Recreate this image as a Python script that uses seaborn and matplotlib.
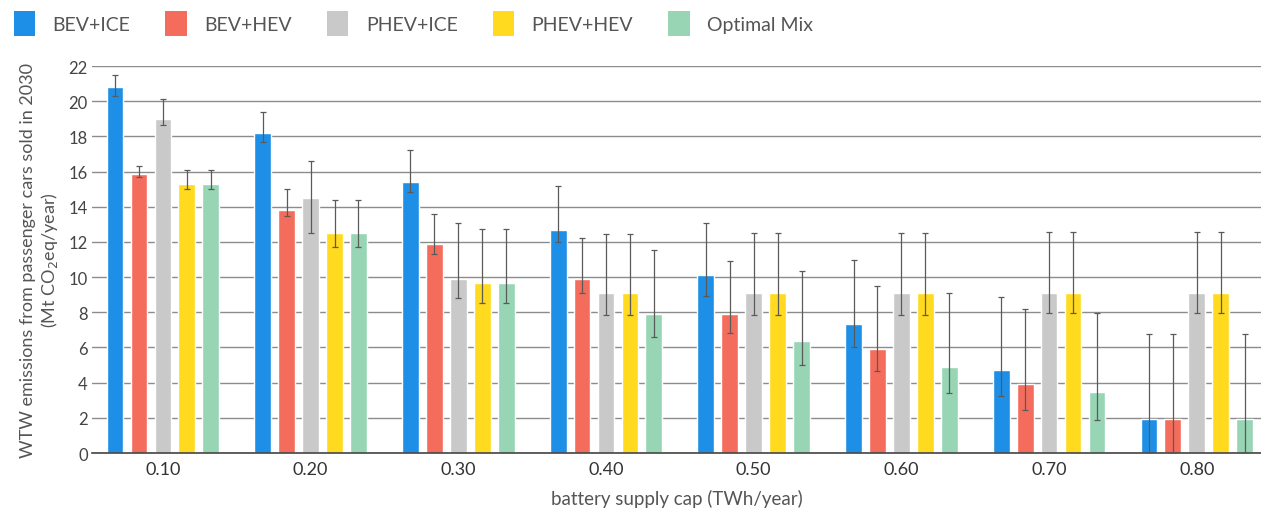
import numpy as np
import pandas as pd
import matplotlib.pyplot as plt
import seaborn as sns
from matplotlib.patches import Patch

# data
caps = ["0.10", "0.20", "0.30", "0.40", "0.50", "0.60", "0.70", "0.80"]
scenarios = ["BEV+ICE", "BEV+HEV", "PHEV+ICE", "PHEV+HEV", "Optimal Mix"]
colors = ["#1E8FE6", "#F46D5C", "#C9C9C9", "#FFDA1F", "#97D5B5"]

bev_ice = [20.8, 18.2, 15.4, 12.7, 10.1, 7.35, 4.7, 1.95]
bev_ice_lo = [20.3, 17.7, 14.85, 12.0, 8.95, 6.05, 3.25, 0.0]
bev_ice_hi = [21.5, 19.4, 17.25, 15.2, 13.1, 10.95, 8.85, 6.75]

bev_hev = [15.85, 13.8, 11.9, 9.9, 7.9, 5.9, 3.95, 1.95]
bev_hev_lo = [15.7, 13.5, 11.3, 9.1, 6.85, 4.65, 2.45, 0.0]
bev_hev_hi = [16.3, 15.0, 13.6, 12.2, 10.9, 9.5, 8.2, 6.75]

phev_ice = [19.0, 14.5, 9.9, 9.1, 9.1, 9.1, 9.1, 9.1]
phev_ice_lo = [18.65, 12.5, 8.8, 7.85, 7.85, 7.85, 7.95, 7.95]
phev_ice_hi = [20.1, 16.6, 13.1, 12.45, 12.5, 12.5, 12.55, 12.55]

phev_hev = [15.3, 12.5, 9.65, 9.1, 9.1, 9.1, 9.1, 9.1]
phev_hev_lo = [15.0, 11.7, 8.5, 7.85, 7.85, 7.85, 7.95, 7.95]
phev_hev_hi = [16.1, 14.4, 12.75, 12.45, 12.5, 12.5, 12.55, 12.55]

optimal = [15.3, 12.5, 9.65, 7.9, 6.35, 4.9, 3.45, 1.95]
optimal_lo = [15.0, 11.7, 8.5, 6.6, 5.0, 3.4, 1.85, 0.0]
optimal_hi = [16.1, 14.4, 12.75, 11.55, 10.35, 9.1, 7.95, 6.75]

values = [bev_ice, bev_hev, phev_ice, phev_hev, optimal]
lows = [bev_ice_lo, bev_hev_lo, phev_ice_lo, phev_hev_lo, optimal_lo]
highs = [bev_ice_hi, bev_hev_hi, phev_ice_hi, phev_hev_hi, optimal_hi]

rows = []
for s, v in zip(scenarios, values):
    for c, val in zip(caps, v):
        rows.append({"cap": c, "scenario": s, "value": val})
df = pd.DataFrame(rows)

sns.set_style("white")
plt.rcParams["font.family"] = ["Lato", "DejaVu Sans"]

fig = plt.figure(figsize=(12.61, 5.10), dpi=100)
ax = fig.add_axes([0.073, 0.1098, 0.927, 0.7588])

sns.barplot(data=df, x="cap", y="value", hue="scenario", order=caps,
            hue_order=scenarios, palette=colors, errorbar=None,
            width=0.81, gap=0.3, saturation=1, legend=False, ax=ax, zorder=2)

# error bars on each bar
for cont, v, lo, hi in zip(ax.containers, values, lows, highs):
    xs = [b.get_x() + b.get_width() / 2 for b in cont]
    v = np.array(v)
    yerr = [v - np.array(lo), np.array(hi) - v]
    ax.errorbar(xs, v, yerr=yerr, fmt="none", ecolor="#5a5a5a",
                elinewidth=0.9, capsize=2.5, capthick=0.9, zorder=3)

ax.set_ylim(0, 22)
ax.set_xlim(-0.48, 7.435)
ax.set_yticks(range(0, 23, 2))
ax.yaxis.grid(True, color="#8c8c8c", linewidth=1.0, zorder=0)
ax.set_axisbelow(True)
for side in ["top", "right", "left"]:
    ax.spines[side].set_visible(False)
ax.spines["bottom"].set_color("#444444")
ax.spines["bottom"].set_linewidth(1.2)
ax.tick_params(axis="y", labelsize=12, colors="#444444", length=0, pad=3)
ax.tick_params(axis="x", labelsize=13, colors="#333333", length=0, pad=6)
ax.set_xlabel("battery supply cap (TWh/year)", fontsize=13.5, color="#555555", labelpad=8)
ax.set_ylabel("WTW emissions from passenger cars sold in 2030\n(Mt CO$_2$eq/year)",
              fontsize=13, color="#555555", labelpad=6)

handles = [Patch(facecolor=c, edgecolor="none") for c in colors]
fig.legend(handles, scenarios, loc="upper left", bbox_to_anchor=(-0.003, 1.01),
           ncol=5, frameon=False, fontsize=14, labelcolor="#555555",
           handlelength=1.1, handleheight=1.6, handletextpad=0.9,
           columnspacing=1.8)

fig.savefig("out.png", dpi=100)
